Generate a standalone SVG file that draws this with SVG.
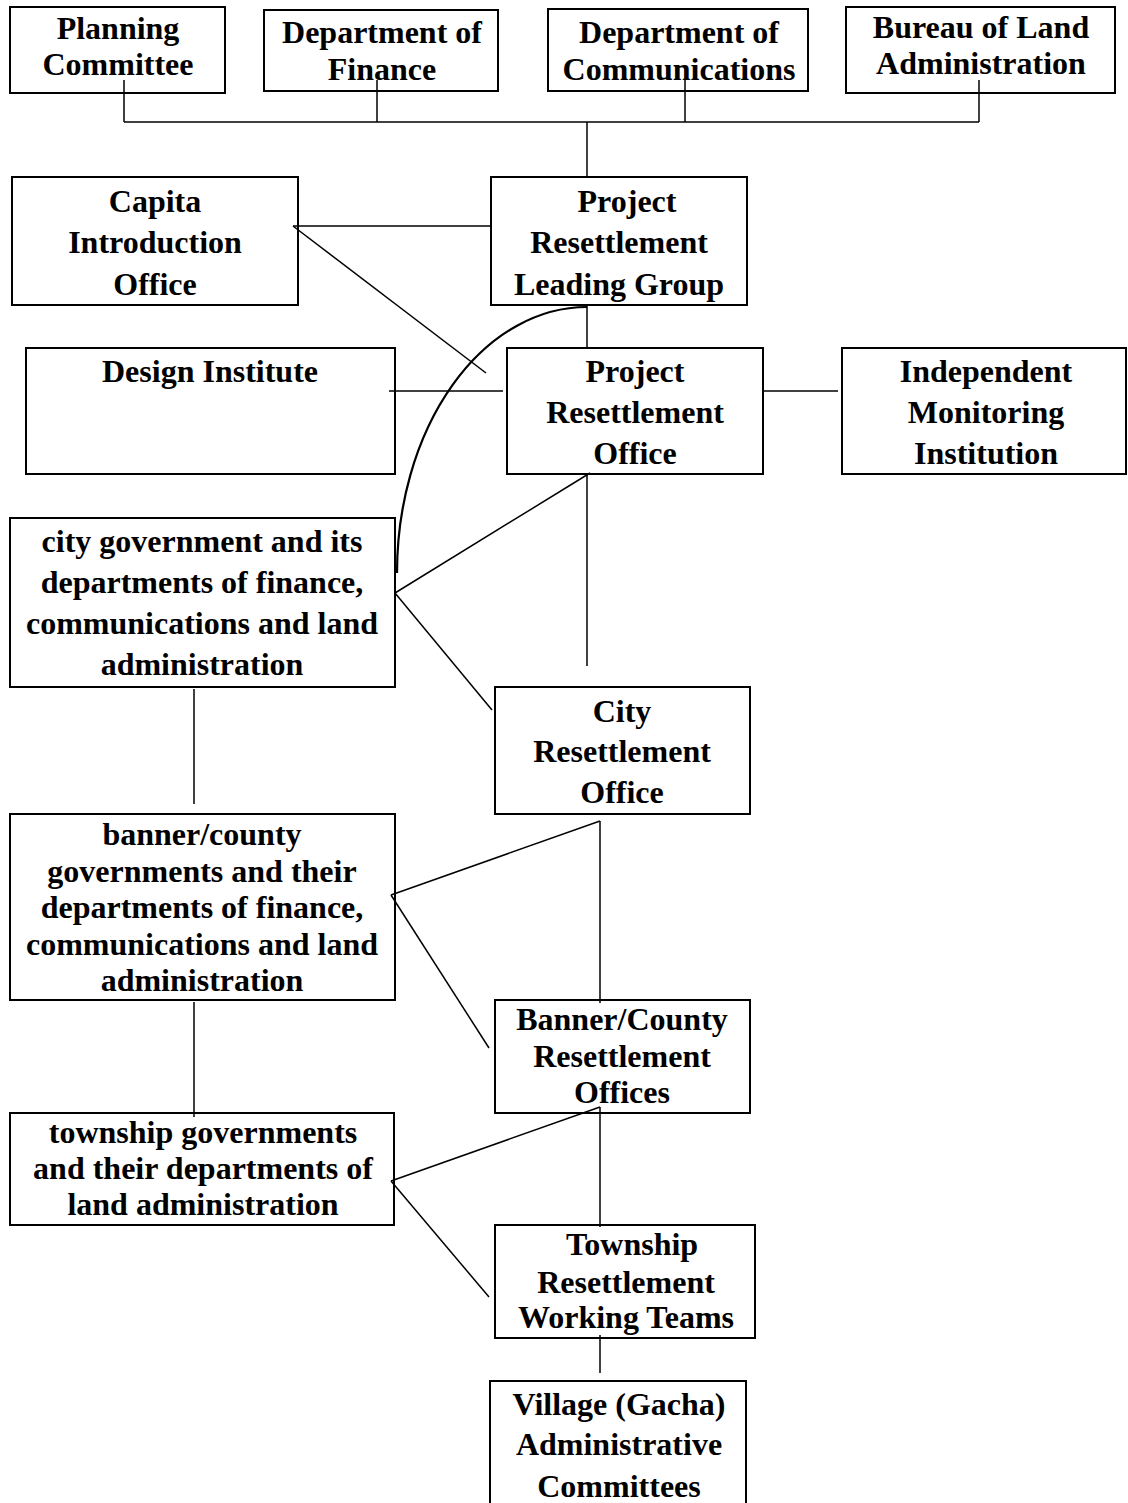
<svg xmlns="http://www.w3.org/2000/svg" width="1128" height="1503" viewBox="0 0 1128 1503">
<style>
.box{fill:#fff;stroke:#000;stroke-width:2}
.t{font-family:"Liberation Serif","Times New Roman",serif;font-weight:bold;font-size:32px;fill:#000;text-anchor:middle}
.c{fill:none;stroke:#000;stroke-width:1.5}
.arc{fill:none;stroke:#000;stroke-width:2.2}
</style>
<rect width="1128" height="1503" fill="#fff"/>
<g id="planning-committee">
<rect class="box" x="10" y="7" width="215" height="86"/>
<text class="t" x="118" y="39">Planning</text>
<text class="t" x="118" y="75">Committee</text>
</g>
<g id="department-of-finance">
<rect class="box" x="264" y="10" width="234" height="81"/>
<text class="t" x="382" y="43">Department of</text>
<text class="t" x="382" y="80">Finance</text>
</g>
<g id="department-of-communications">
<rect class="box" x="548" y="9" width="260" height="82"/>
<text class="t" x="679" y="43">Department of</text>
<text class="t" x="679" y="80">Communications</text>
</g>
<g id="bureau-of-land-administration">
<rect class="box" x="846" y="7" width="269" height="86"/>
<text class="t" x="981" y="38">Bureau of Land</text>
<text class="t" x="981" y="74">Administration</text>
</g>
<g id="capita-introduction-office">
<rect class="box" x="12" y="177" width="286" height="128"/>
<text class="t" x="155" y="212">Capita</text>
<text class="t" x="155" y="253">Introduction</text>
<text class="t" x="155" y="295">Office</text>
</g>
<g id="project-resettlement-leading-group">
<rect class="box" x="491" y="177" width="256" height="128"/>
<text class="t" x="627" y="212">Project</text>
<text class="t" x="619" y="253">Resettlement</text>
<text class="t" x="619" y="295">Leading Group</text>
</g>
<g id="design-institute">
<rect class="box" x="26" y="348" width="369" height="126"/>
<text class="t" x="210" y="382">Design Institute</text>
</g>
<g id="project-resettlement-office">
<rect class="box" x="507" y="348" width="256" height="126"/>
<text class="t" x="635" y="382">Project</text>
<text class="t" x="635" y="423">Resettlement</text>
<text class="t" x="635" y="464">Office</text>
</g>
<g id="independent-monitoring-institution">
<rect class="box" x="842" y="348" width="284" height="126"/>
<text class="t" x="986" y="382">Independent</text>
<text class="t" x="986" y="423">Monitoring</text>
<text class="t" x="986" y="464">Institution</text>
</g>
<g id="city-government">
<rect class="box" x="10" y="518" width="385" height="169"/>
<text class="t" x="202" y="552">city government and its</text>
<text class="t" x="202" y="593">departments of finance,</text>
<text class="t" x="202" y="634">communications and land</text>
<text class="t" x="202" y="675">administration</text>
</g>
<g id="city-resettlement-office">
<rect class="box" x="495" y="687" width="255" height="127"/>
<text class="t" x="622" y="722">City</text>
<text class="t" x="622" y="762">Resettlement</text>
<text class="t" x="622" y="803">Office</text>
</g>
<g id="banner-county-governments">
<rect class="box" x="10" y="814" width="385" height="186"/>
<text class="t" x="202" y="845">banner/county</text>
<text class="t" x="202" y="882">governments and their</text>
<text class="t" x="202" y="918">departments of finance,</text>
<text class="t" x="202" y="955">communications and land</text>
<text class="t" x="202" y="991">administration</text>
</g>
<g id="banner-county-resettlement-offices">
<rect class="box" x="495" y="1000" width="255" height="113"/>
<text class="t" x="622" y="1030">Banner/County</text>
<text class="t" x="622" y="1067">Resettlement</text>
<text class="t" x="622" y="1103">Offices</text>
</g>
<g id="township-governments">
<rect class="box" x="10" y="1113" width="384" height="112"/>
<text class="t" x="203" y="1143">township governments</text>
<text class="t" x="203" y="1179">and their departments of</text>
<text class="t" x="203" y="1215">land administration</text>
</g>
<g id="township-resettlement-working-teams">
<rect class="box" x="495" y="1225" width="260" height="113"/>
<text class="t" x="632" y="1255">Township</text>
<text class="t" x="626" y="1293">Resettlement</text>
<text class="t" x="626" y="1328">Working Teams</text>
</g>
<g id="village-administrative-committees">
<rect class="box" x="490" y="1381" width="256" height="140"/>
<text class="t" x="619" y="1415">Village (Gacha)</text>
<text class="t" x="619" y="1455">Administrative</text>
<text class="t" x="619" y="1497">Committees</text>
</g>
<g id="connectors">
<line class="c" x1="124" y1="122" x2="979" y2="122"/>
<line class="c" x1="124" y1="80" x2="124" y2="122"/>
<line class="c" x1="377" y1="80" x2="377" y2="122"/>
<line class="c" x1="685" y1="80" x2="685" y2="122"/>
<line class="c" x1="979" y1="80" x2="979" y2="122"/>
<line class="c" x1="587" y1="122" x2="587" y2="177"/>
<line class="c" x1="293" y1="226" x2="491" y2="226"/>
<line class="c" x1="293" y1="226" x2="486" y2="373"/>
<line class="c" x1="587" y1="305" x2="587" y2="348"/>
<path class="arc" d="M587,307 A190,266 0 0 0 397,573"/>
<line class="c" x1="389" y1="391" x2="503" y2="391"/>
<line class="c" x1="763" y1="391" x2="838" y2="391"/>
<line class="c" x1="395" y1="593" x2="590" y2="473"/>
<line class="c" x1="395" y1="593" x2="492" y2="710"/>
<line class="c" x1="587" y1="474" x2="587" y2="666"/>
<line class="c" x1="194" y1="689" x2="194" y2="804"/>
<line class="c" x1="391" y1="895" x2="600" y2="821"/>
<line class="c" x1="391" y1="895" x2="489" y2="1048"/>
<line class="c" x1="600" y1="821" x2="600" y2="1003"/>
<line class="c" x1="194" y1="1002" x2="194" y2="1117"/>
<line class="c" x1="391" y1="1181" x2="600" y2="1107"/>
<line class="c" x1="391" y1="1181" x2="489" y2="1297"/>
<line class="c" x1="600" y1="1107" x2="600" y2="1227"/>
<line class="c" x1="600" y1="1335" x2="600" y2="1373"/>
</g>
</svg>
